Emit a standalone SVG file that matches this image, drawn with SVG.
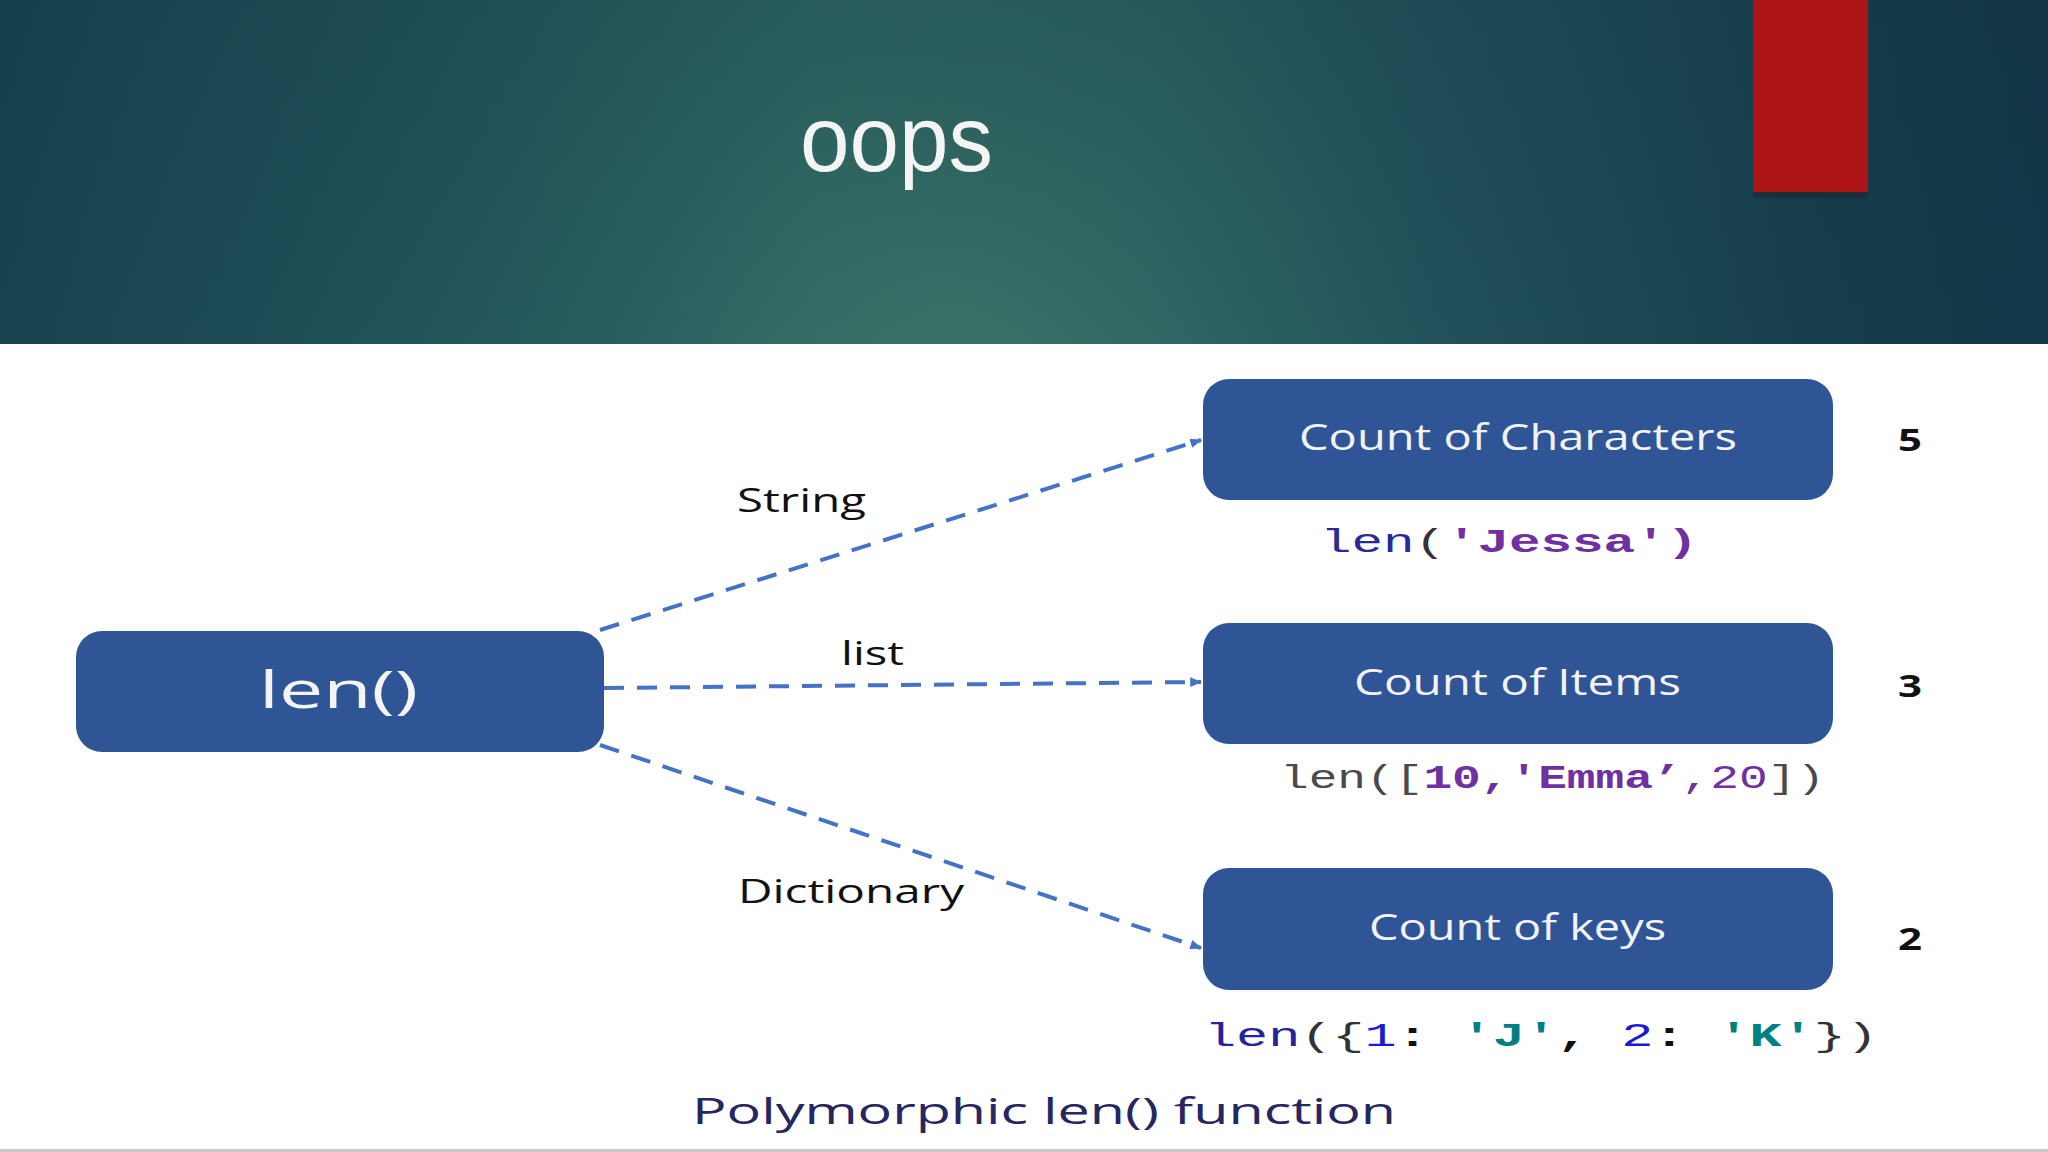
<svg xmlns="http://www.w3.org/2000/svg" width="2048" height="1152" viewBox="0 0 2048 1152">
  <defs>
    <linearGradient id="hdr" x1="0" y1="0" x2="1" y2="0">
      <stop offset="0" stop-color="#174250"/>
      <stop offset="0.2" stop-color="#22535a"/>
      <stop offset="0.4" stop-color="#2d6562"/>
      <stop offset="0.56" stop-color="#2b6061"/>
      <stop offset="0.75" stop-color="#1f4c59"/>
      <stop offset="0.88" stop-color="#173e4d"/>
      <stop offset="1" stop-color="#133849"/>
    </linearGradient>
    <radialGradient id="glow" cx="960" cy="380" r="600" gradientUnits="userSpaceOnUse" gradientTransform="translate(960 380) scale(0.8 1) translate(-960 -380)">
      <stop offset="0" stop-color="#477f6e" stop-opacity="0.55"/>
      <stop offset="0.55" stop-color="#3a7468" stop-opacity="0.25"/>
      <stop offset="1" stop-color="#2a6062" stop-opacity="0"/>
    </radialGradient>
    <linearGradient id="topdark" x1="0" y1="0" x2="0" y2="1">
      <stop offset="0" stop-color="#0f2f3c" stop-opacity="0.2"/>
      <stop offset="1" stop-color="#0f2f3c" stop-opacity="0"/>
    </linearGradient>
    <marker id="arr" viewBox="0 0 10 10" refX="9" refY="5" markerWidth="12" markerHeight="12" markerUnits="userSpaceOnUse" orient="auto">
      <path d="M0,1 L10,5 L0,9 z" fill="#4472c4"/>
    </marker>
    <style>
      .box { fill: #2f5597; }
      .lbl { font-family: "Open Sans", "Lato", sans-serif; fill: #f2f2f2; font-size: 36px; }
      .edge { font-family: "Open Sans", "Lato", sans-serif; fill: #111111; font-size: 33px; }
      .num { font-family: "Open Sans", "Liberation Sans", sans-serif; font-weight: bold; fill: #111111; font-size: 31px; }
      .code { font-family: "Liberation Mono", monospace; font-size: 33px; white-space: pre; }
      .conn { fill: none; stroke: #4472c4; stroke-width: 4; stroke-dasharray: 20 13; }
    </style>
  </defs>

  <rect x="0" y="0" width="2048" height="1152" fill="#ffffff"/>

  <g id="header">
    <rect x="0" y="0" width="2048" height="344" fill="url(#hdr)"/>
    <rect x="0" y="0" width="2048" height="344" fill="url(#glow)"/>
    <rect x="0" y="0" width="2048" height="344" fill="url(#topdark)"/>
    <rect x="1753" y="192" width="115" height="6" fill="#1a2d36" opacity="0.8"/>
    <rect x="1753" y="0" width="115" height="192" fill="#ae1517"/>
    <text x="800" y="171" font-family="Liberation Sans, Arial, sans-serif" font-size="92" fill="#f4f4f4" textLength="193" lengthAdjust="spacingAndGlyphs">oops</text>
  </g>

  <g id="connectors">
    <line class="conn" x1="600" y1="630" x2="1201" y2="440" marker-end="url(#arr)"/>
    <line class="conn" x1="604" y1="688" x2="1201" y2="682" marker-end="url(#arr)"/>
    <line class="conn" x1="600" y1="745" x2="1201" y2="948" marker-end="url(#arr)"/>
    <text class="edge" x="737" y="512" textLength="129" lengthAdjust="spacingAndGlyphs">String</text>
    <text class="edge" x="841" y="665" textLength="63" lengthAdjust="spacingAndGlyphs">list</text>
    <text class="edge" x="738" y="903" textLength="226" lengthAdjust="spacingAndGlyphs">Dictionary</text>
  </g>

  <g id="node-len">
    <rect class="box" x="76" y="631" width="528" height="121" rx="26"/>
    <text x="259" y="708" font-family="Open Sans, Lato, sans-serif" font-size="52" fill="#f4f4f4" textLength="159" lengthAdjust="spacingAndGlyphs">len()</text>
  </g>

  <g id="node-chars">
    <rect class="box" x="1203" y="379" width="630" height="121" rx="26"/>
    <text class="lbl" x="1299" y="450" textLength="438" lengthAdjust="spacingAndGlyphs">Count of Characters</text>
  </g>
  <g id="node-items">
    <rect class="box" x="1203" y="623" width="630" height="121" rx="26"/>
    <text class="lbl" x="1354" y="695" textLength="327" lengthAdjust="spacingAndGlyphs">Count of Items</text>
  </g>
  <g id="node-keys">
    <rect class="box" x="1203" y="868" width="630" height="122" rx="26"/>
    <text class="lbl" x="1369" y="940" textLength="297" lengthAdjust="spacingAndGlyphs">Count of keys</text>
  </g>

  <g id="results">
    <text class="num" x="1898" y="451" textLength="24" lengthAdjust="spacingAndGlyphs">5</text>
    <text class="num" x="1898" y="697" textLength="24" lengthAdjust="spacingAndGlyphs">3</text>
    <text class="num" x="1898" y="950" textLength="24" lengthAdjust="spacingAndGlyphs">2</text>
  </g>

  <g id="code">
    <text class="code" x="1320" y="552" textLength="378" lengthAdjust="spacingAndGlyphs"><tspan fill="#2a2a96">len</tspan><tspan fill="#333333">(</tspan><tspan fill="#7030a0" font-weight="bold">'Jessa')</tspan></text>
    <text class="code" x="1280" y="788" textLength="545" lengthAdjust="spacingAndGlyphs"><tspan fill="#4a4a4a">len([</tspan><tspan fill="#7030a0" font-weight="bold">10,'Emma’</tspan><tspan fill="#7030a0">,20</tspan><tspan fill="#4a4a4a">])</tspan></text>
    <text class="code" x="1204" y="1046" textLength="674" lengthAdjust="spacingAndGlyphs"><tspan fill="#24249a">len</tspan><tspan fill="#333333">({</tspan><tspan fill="#1a1ad6">1</tspan><tspan fill="#111111" font-weight="bold">: </tspan><tspan fill="#008080" font-weight="bold">'J'</tspan><tspan fill="#111111" font-weight="bold">, </tspan><tspan fill="#1a1ad6">2</tspan><tspan fill="#111111" font-weight="bold">: </tspan><tspan fill="#008080" font-weight="bold">'K'</tspan><tspan fill="#333333">})</tspan></text>
  </g>

  <g id="caption">
    <text x="692" y="1124" font-family="Open Sans, Lato, sans-serif" font-size="36" fill="#262660" textLength="704" lengthAdjust="spacingAndGlyphs">Polymorphic len() function</text>
  </g>

  <rect x="0" y="1149" width="2048" height="3" fill="#c8c8c8"/>
</svg>
